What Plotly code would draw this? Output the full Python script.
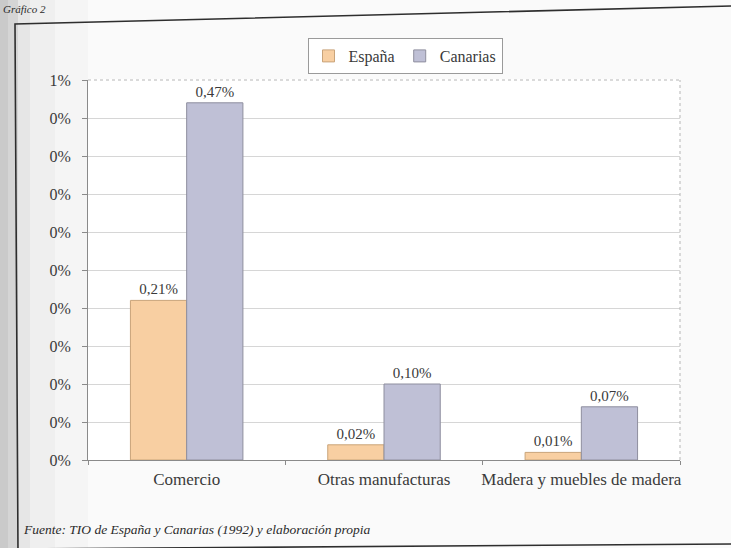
import plotly.graph_objects as go

# Datos
categorias = ["Comercio", "Otras manufacturas", "Madera y muebles de madera"]
espana = [0.21, 0.02, 0.01]
canarias = [0.47, 0.10, 0.07]
y_ticks = [0.0, 0.05, 0.10, 0.15, 0.20, 0.25, 0.30, 0.35, 0.40, 0.45, 0.50]
y_tick_text = ["0%", "0%", "0%", "0%", "0%", "0%", "0%", "0%", "0%", "0%", "1%"]

FONT = "Liberation Serif, Times New Roman, serif"
TXT = "#3a3a3a"

# Plot-area geometry in pixels
L, T, W, H = 88, 80, 592, 380
FIG_W, FIG_H = 731, 548


def px(x):
    return (x - L) / W


def py(y):
    return (T + H - y) / H


fig = go.Figure()
fig.add_trace(go.Bar(
    name="España", x=categorias, y=espana,
    marker=dict(color="#F8CFA2", line=dict(color="#C9A47A", width=1)),
    texttemplate="%{y:.2f}%", textposition="outside",
    textfont=dict(family=FONT, size=15, color=TXT), cliponaxis=False,
))
fig.add_trace(go.Bar(
    name="Canarias", x=categorias, y=canarias,
    marker=dict(color="#BFC0D6", line=dict(color="#8E8E9E", width=1)),
    texttemplate="%{y:.2f}%", textposition="outside",
    textfont=dict(family=FONT, size=15, color=TXT), cliponaxis=False,
))

shapes = []
# soft shading along the left margin of the page
for x1, a in [(88, 0.02), (55, 0.025), (30, 0.035), (18, 0.07), (8, 0.05)]:
    shapes.append(dict(type="rect", xref="paper", yref="paper", layer="below",
                       x0=px(0), x1=px(x1), y0=py(FIG_H), y1=py(0),
                       fillcolor=f"rgba(0,0,0,{a})", line=dict(width=0)))
# frame around the figure
shapes.append(dict(type="path", xref="paper", yref="paper",
                   path=f"M {px(18)},{py(552)} L {px(15)},{py(24)} L {px(731)},{py(6)}",
                   line=dict(color="#2e2e2e", width=1.6)))
shapes.append(dict(type="line", xref="paper", yref="paper",
                   x0=px(18), y0=py(549), x1=px(731), y1=py(544),
                   line=dict(color="#2e2e2e", width=1.6)))
# dotted top and right edges of the plot area
shapes.append(dict(type="line", xref="paper", yref="paper", x0=0, x1=1, y0=1, y1=1,
                   line=dict(color="white", width=2)))
shapes.append(dict(type="line", xref="paper", yref="paper", x0=0, x1=1, y0=1, y1=1,
                   line=dict(color="#b5b5b5", width=1, dash="dot")))
shapes.append(dict(type="line", xref="paper", yref="paper", x0=1, x1=1, y0=0, y1=1,
                   line=dict(color="#b5b5b5", width=1, dash="dot")))

annotations = [
    dict(text="<i>Fuente: TIO de España y Canarias (1992) y elaboración propia</i>",
         xref="paper", yref="paper", x=px(21), y=py(529), xanchor="left", yanchor="middle",
         showarrow=False, font=dict(family=FONT, size=13.5, color="#2a2a2a")),
    dict(text="<i>Gráfico 2</i>",
         xref="paper", yref="paper", x=px(1), y=py(1), xanchor="left", yanchor="top",
         showarrow=False, font=dict(family=FONT, size=11, color="#2a2a2a")),
]

fig.update_layout(
    width=FIG_W, height=FIG_H,
    margin=dict(l=L, r=FIG_W - L - W, t=T, b=FIG_H - T - H, pad=0, autoexpand=False),
    paper_bgcolor="#fafafa", plot_bgcolor="white",
    separators=",.",
    barmode="group", bargap=0.43, bargroupgap=0,
    font=dict(family=FONT, size=15, color=TXT),
    showlegend=True,
    legend=dict(orientation="h", x=px(405), xanchor="center", y=py(38), yanchor="top",
                bgcolor="white", bordercolor="#9a9a9a", borderwidth=1,
                font=dict(family=FONT, size=16, color=TXT),
                itemwidth=30, tracegroupgap=0),
    shapes=shapes,
    annotations=annotations,
)
fig.update_xaxes(
    showgrid=False, showline=True, linecolor="#8a8a8a", linewidth=1,
    ticks="outside", tickson="boundaries", ticklen=4, tickcolor="#8a8a8a",
    ticklabelstandoff=4, tickangle=0, automargin=False,
    tickfont=dict(family=FONT, size=17, color=TXT),
)
fig.update_yaxes(
    range=[0, 0.5], tickvals=y_ticks, ticktext=y_tick_text,
    showgrid=True, gridcolor="#d6d6d6", gridwidth=1,
    showline=True, linecolor="#8a8a8a", linewidth=1,
    ticks="outside", ticklen=5, tickcolor="#8a8a8a", ticklabelstandoff=8,
    automargin=False,
    tickfont=dict(family=FONT, size=16, color=TXT), zeroline=False,
)

fig.write_html("out.html")
